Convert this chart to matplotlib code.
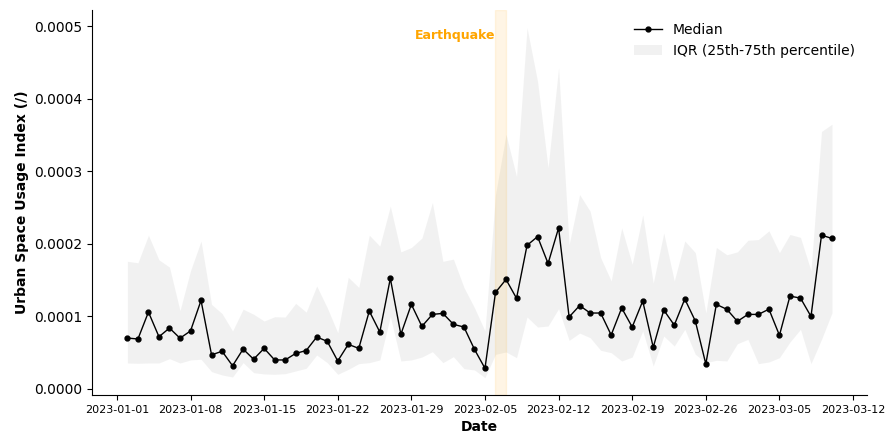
import matplotlib.pyplot as plt
import matplotlib.ticker as mticker
import numpy as np
import pandas as pd

# Serie diaria 2023-01-02 .. 2023-03-10
datas = pd.date_range('2023-01-02', '2023-03-10', freq='D')

mediana = [
    0.0000702, 0.0000689, 0.000106, 0.000072, 0.000084, 0.000070, 0.000080,
    0.000122, 0.000047, 0.000052, 0.000032, 0.000055, 0.000041, 0.000056,
    0.000040, 0.000040, 0.000049, 0.000053, 0.0000716, 0.0000657, 0.0000386,
    0.0000615, 0.000056, 0.0001074, 0.0000785, 0.0001524, 0.0000753, 0.0001166,
    0.0000863, 0.0001028, 0.0001042, 0.0000891, 0.0000854, 0.0000546, 0.0000285,
    0.0001331, 0.000151, 0.000125, 0.000198, 0.000210, 0.000173, 0.000222,
    0.0000992, 0.000115, 0.0001047, 0.0001047, 0.0000744, 0.0001116, 0.0000854,
    0.0001212, 0.0000574, 0.0001088, 0.000088, 0.000124, 0.0000937, 0.0000344,
    0.0001166, 0.0001098, 0.0000932, 0.0001028, 0.0001028, 0.000110, 0.000074,
    0.000128, 0.0001253, 0.000100, 0.000212, 0.0002075,
]

q75 = [
    0.000176, 0.000174, 0.000212, 0.000178, 0.000168, 0.000108, 0.000163,
    0.000204, 0.0001166, 0.000104, 0.000080, 0.000110, 0.000103, 0.0000937,
    0.0000996, 0.0000992, 0.000118, 0.000106, 0.000142, 0.000112, 0.0000776,
    0.000154, 0.000140, 0.000212, 0.000197, 0.000252, 0.000189, 0.000195,
    0.000208, 0.000257, 0.000176, 0.000179, 0.000140, 0.000112, 0.000080,
    0.000268, 0.000351, 0.000293, 0.000498, 0.000424, 0.000305, 0.000443,
    0.000199, 0.000268, 0.000245, 0.000181, 0.000149, 0.000222, 0.000172,
    0.000240, 0.000146, 0.000215, 0.000149, 0.000204, 0.000188, 0.000105,
    0.000195, 0.000185, 0.000189, 0.000205, 0.000206, 0.000218, 0.000188,
    0.000213, 0.000209, 0.000163, 0.000355, 0.000365,
]

q25 = [
    0.0000358, 0.0000354, 0.0000358, 0.0000358, 0.0000418, 0.0000358, 0.000040,
    0.000041, 0.0000239, 0.0000193, 0.0000165, 0.0000363, 0.0000225, 0.0000207,
    0.0000202, 0.0000211, 0.0000248, 0.0000285, 0.0000468, 0.0000363, 0.0000202,
    0.000027, 0.0000349, 0.0000363, 0.000040, 0.000100, 0.0000386, 0.000040,
    0.000044, 0.0000514, 0.0000363, 0.0000445, 0.000028, 0.0000262, 0.0000156,
    0.0000478, 0.000051, 0.0000432, 0.0000992, 0.0000854, 0.0000868, 0.0001106,
    0.000067, 0.000077, 0.0000707, 0.0000533, 0.000050, 0.0000386, 0.000044,
    0.000080, 0.0000317, 0.000073, 0.0000592, 0.0000822, 0.0000478, 0.0000363,
    0.0000395, 0.0000386, 0.0000624, 0.0000684, 0.0000349, 0.0000372, 0.0000431,
    0.0000647, 0.0000822, 0.0000349, 0.0000684, 0.000105,
]

data_sismo = pd.Timestamp('2023-02-06')


def main():
    fig, ax = plt.subplots(figsize=(8.95, 4.44), dpi=100)
    fig.subplots_adjust(left=0.103, right=0.969, top=0.977, bottom=0.110)

    ax.plot(datas, mediana, color='black', marker='o', markersize=3.5,
            linewidth=1, label='Median')
    ax.fill_between(datas, q25, q75, color='lightgray', alpha=0.3,
                    linewidth=0, label='IQR (25th-75th percentile)')

    ax.axvspan(data_sismo, data_sismo + pd.Timedelta(days=1),
               color='orange', alpha=0.1)
    ax.text(data_sismo, 0.000487, 'Earthquake', color='orange',
            fontweight='bold', fontsize=9, ha='right', va='center')

    ax.xaxis.set_major_locator(mticker.FixedLocator(
        [plt.matplotlib.dates.date2num(d) for d in
         pd.date_range('2023-01-01', '2023-03-12', freq='7D')]))
    ax.xaxis.set_major_formatter(plt.matplotlib.dates.DateFormatter('%Y-%m-%d'))
    ax.yaxis.set_major_formatter(mticker.FormatStrFormatter('%.4f'))
    ax.tick_params(axis='x', labelsize=8)
    ax.tick_params(axis='y', labelsize=10)

    ax.set_xlabel('Date', fontweight='bold')
    ax.set_ylabel('Urban Space Usage Index (/)', fontweight='bold')
    ax.spines['top'].set_visible(False)
    ax.spines['right'].set_visible(False)
    ax.legend(loc='upper right', frameon=False)

    fig.savefig('out.png', dpi=100)


if __name__ == '__main__':
    main()
